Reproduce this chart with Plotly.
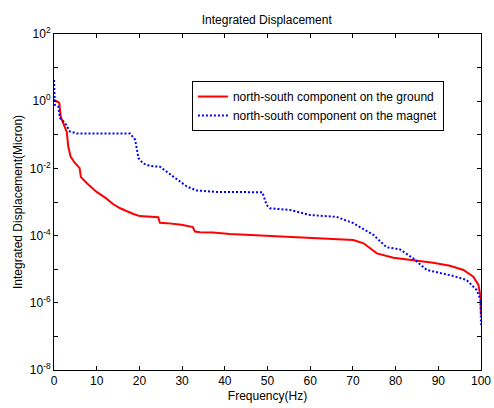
"""Integrated displacement spectrum (MATLAB-style log plot) in Plotly."""

import plotly.graph_objects as go

# north-south component on the ground
freq_ground = [0, 1.25, 1.4, 1.6, 2.6, 3.0, 3.35, 3.9, 4.9, 6.0, 6.3, 7.7, 10, 12.3,
               13.8, 15.5, 18.6, 20.1, 24.4, 24.8, 26.4, 29.9, 32.5, 33.0, 34.2, 37.2,
               41.2, 45.9, 49.8, 56, 62.3, 67, 70.1, 72.5, 74, 75.6, 79.5, 84.1, 88.8,
               92.7, 95.9, 98.2, 99.4, 99.9, 100]
disp_ground = [1.1, 0.89, 0.55, 0.34, 0.16, 0.12, 0.044, 0.022, 0.0145, 0.0102, 0.0055,
               0.0036, 0.002, 1.26e-3, 8.7e-4, 6.5e-4, 4.4e-4, 3.8e-4, 3.5e-4, 2.4e-4,
               2.35e-4, 2.1e-4, 1.8e-4, 1.32e-4, 1.26e-4, 1.23e-4, 1.12e-4, 1.05e-4,
               1.02e-4, 9.3e-5, 8.3e-5, 7.9e-5, 7.4e-5, 5.9e-5, 4.2e-5, 2.95e-5, 2.2e-5,
               1.86e-5, 1.55e-5, 1.26e-5, 9.5e-6, 6.0e-6, 3.4e-6, 1.5e-6, 4.4e-7]

# north-south component on the magnet
freq_magnet = [0, 0.2, 1.0, 1.4, 2.6, 3.7, 5.3, 17.8, 19, 19.8, 20.9, 22.5, 24.8, 26.4,
               28.7, 31.1, 33.4, 38.1, 48.8, 49.4, 49.8, 50.6, 55.3, 60, 66.2, 70.1,
               74.8, 77.9, 81, 84.1, 87.3, 93.5, 96.6, 99, 99.9, 100]
disp_magnet = [4.3, 0.78, 0.69, 0.32, 0.22, 0.126, 0.11, 0.11, 0.071, 0.02, 0.014,
               0.0118, 0.0112, 0.0079, 0.005, 0.0029, 0.0022, 0.002, 1.95e-3, 1.15e-3,
               8.1e-4, 6.5e-4, 5.8e-4, 4.1e-4, 3.6e-4, 2.35e-4, 1.05e-4, 4.5e-5, 3.9e-5,
               2.1e-5, 9.5e-6, 6.3e-6, 4.8e-6, 2.4e-6, 1.2e-6, 2.2e-7]

x_ticks = [0, 10, 20, 30, 40, 50, 60, 70, 80, 90, 100]
y_exponents = [-8, -7, -6, -5, -4, -3, -2, -1, 0, 1, 2]

FONT = "Liberation Sans, Arial, sans-serif"

fig = go.Figure()
fig.add_trace(
    go.Scatter(
        x=freq_ground,
        y=disp_ground,
        mode="lines",
        name="north-south component on the ground",
        line=dict(color="#ff0000", width=2),
    )
)
fig.add_trace(
    go.Scatter(
        x=freq_magnet,
        y=disp_magnet,
        mode="lines",
        name="north-south component on the magnet",
        line=dict(color="#0000ff", width=2, dash="2px,2px"),
    )
)

y_vals = [10.0 ** e for e in y_exponents]
y_text = [f"10<sup>{e}</sup>" if e % 2 == 0 else "" for e in y_exponents]

fig.update_layout(
    width=494,
    height=408,
    paper_bgcolor="white",
    plot_bgcolor="white",
    font=dict(family=FONT, size=12, color="black"),
    margin=dict(l=54, r=13, t=34, b=38),
    title=dict(text="Integrated Displacement", x=0.54, xanchor="center", y=0.951,
               yanchor="middle", font=dict(size=12)),
    legend=dict(
        x=0.323, y=0.86, xanchor="left", yanchor="top",
        bgcolor="white", bordercolor="black", borderwidth=1,
        font=dict(size=12), tracegroupgap=0, itemwidth=30,
    ),
    showlegend=True,
)
fig.update_xaxes(
    range=[0, 100],
    tickvals=x_ticks,
    ticks="inside",
    ticklen=4,
    tickcolor="black",
    showline=True,
    linecolor="black",
    linewidth=1,
    mirror="ticks",
    showgrid=False,
    zeroline=False,
    automargin=False,
    title=dict(text="Frequency(Hz)", standoff=4, font=dict(size=12)),
)
fig.update_yaxes(
    type="log",
    range=[-8, 2],
    tickvals=y_vals,
    ticktext=y_text,
    ticks="inside",
    ticklen=4,
    tickcolor="black",
    showline=True,
    linecolor="black",
    linewidth=1,
    mirror="ticks",
    showgrid=False,
    zeroline=False,
    automargin=False,
    title=dict(text="Integrated Displacement(Micron)", standoff=4, font=dict(size=12)),
)

fig.write_html(
    "out.html",
    config={"displayModeBar": False},
    post_script="document.body.style.margin = '0';",
)
